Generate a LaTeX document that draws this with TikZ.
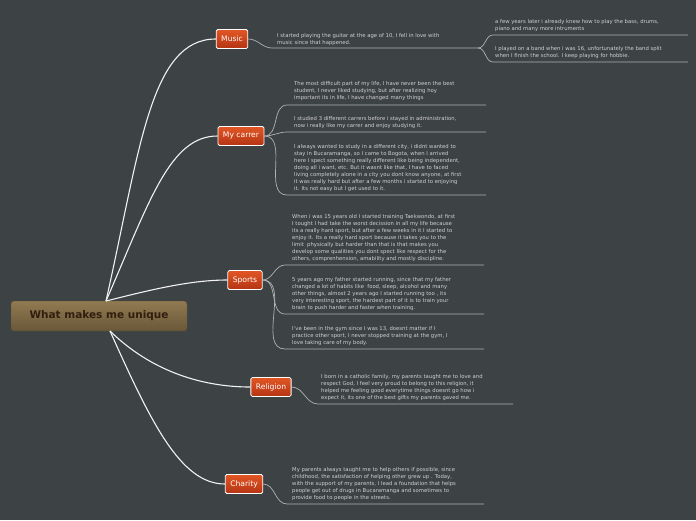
\documentclass[tikz,border=0pt]{standalone}
\usepackage{fontspec}
\setmainfont{DejaVu Sans}
\begin{document}
\begin{tikzpicture}[x=1pt,y=-1pt,
  branch/.style={draw=white,line width=0.8pt,rounded corners=1.5pt,top color={rgb,255:red,226;green,86;blue,36},bottom color={rgb,255:red,180;green,52;blue,20},text=white,font=\fontsize{7.6}{9}\selectfont,inner xsep=5pt,inner ysep=3pt,minimum height=19pt},
  sub/.style={anchor=south west,align=left,text=white!82!black,font=\fontsize{5.3}{7}\selectfont,inner sep=0pt},
  main/.style={line width=1.1pt,white!95!black},
  thin/.style={line width=0.7pt,white!70!black}]
\definecolor{bg}{HTML}{3D4244}
\fill[bg] (0,0) rectangle (696,520);
\useasboundingbox (0,0) rectangle (696,520);
\node[rounded corners=3pt,top color={rgb,255:red,145;green,122;blue,82},bottom color={rgb,255:red,105;green,87;blue,56},draw={rgb,255:red,95;green,80;blue,55},minimum width=176pt,minimum height=30pt,text={rgb,255:red,50;green,30;blue,15},font=\bfseries\fontsize{10.5}{12}\selectfont] (root) at (99,316) {What makes me unique};
\node[branch] (music) at (232,39) {Music};
\node[branch] (carrer) at (241,136) {My carrer};
\node[branch] (sports) at (245,280) {Sports};
\node[branch] (religion) at (271,387) {Religion};
\node[branch] (charity) at (244,484) {Charity};
\coordinate (rt) at (106,301);
\coordinate (rb) at (110,331);
\draw[main] (rt) .. controls (140,150) and (150,39) .. (music.west);
\draw[main] (rt) .. controls (150,200) and (170,136) .. (carrer.west);
\draw[main] (rt) .. controls (150,290) and (190,280) .. (sports.west);
\draw[main] (rb) .. controls (150,370) and (200,387) .. (religion.west);
\draw[main] (rb) .. controls (150,420) and (180,484) .. (charity.west);
% Music
\coordinate (m1) at (272,48); \coordinate (m1e) at (478,48);
\draw[thin] (music.east) to[out=0,in=180] (m1) -- (m1e);
\node[sub] (tm1) at (277,46) {I started playing the guitar at the age of 10, I fell in love with\\music since that happened.};
\coordinate (m2) at (493,35); \coordinate (m3) at (493,62);
\draw[thin] (m1e) to[out=0,in=180] (m2) -- (688,35);
\draw[thin] (m1e) to[out=0,in=180] (m3) -- (688,62);
\node[sub] at (495,32) {a few years later i already knew how to play the bass, drums,\\piano and many more intruments};
\node[sub] at (495,59) {I played on a band when i was 16, unfortunately the band split\\when I finish the school. I keep playing for hobbie.};
% Carrer
\foreach \y in {105,132,195}{\draw[thin] (carrer.east) to[out=0,in=180] (287,\y) -- (486,\y);}
\node[sub] at (294,101) {The most difficult part of my life, I have never been the best\\student, I never liked studying, but after realizing hoy\\important its in life, I have changed many things};
\node[sub] at (294,129) {I studied 3 different carrers before i stayed in administration,\\now i really like my carrer and enjoy studying it.};
\node[sub] at (294,192) {I always wanted to study in a different city, i didnt wanted to\\stay in Bucaramanga, so I came to Bogota, when I arrived\\here I spect something really different like being independent,\\doing all i want, etc. But it wasnt like that, I have to faced\\living completely alone in a city you dont know anyone, at first\\it was really hard but after a few months i started to enjoying\\it. Its not easy but I get used to it.};
% Sports
\foreach \y in {265,314,349}{\draw[thin] (sports.east) to[out=0,in=180] (285,\y) -- (484,\y);}
\node[sub] at (292,262) {When i was 15 years old I started training Taekwondo, at first\\I tought I had take the worst decission in all my life because\\its a really hard sport, but after a few weeks in it I started to\\enjoy it. Its a really hard sport because it takes you to the\\limit\ \ physically but harder than that is that makes you\\develop some qualities you dont spect like respect for the\\others, comprenhension, amability and mostly discipline.};
\node[sub] at (292,311) {5 years ago my father started running, since that my father\\changed a lot of habits like\ \ food, sleep, alcohol and many\\other things, almost 2 years ago I started running too , its\\very interesting sport, the hardest part of it is to train your\\brain to push harder and faster when training.};
\node[sub] at (292,346) {I've been in the gym since I was 13, doesnt matter if I\\practice other sport, I never stopped training at the gym, I\\love taking care of my body.};
% Religion
\draw[thin] (religion.east) to[out=0,in=180] (318,404) -- (513,404);
\node[sub] at (321,401) {I born in a catholic family, my parents taught me to love and\\respect God, I feel very proud to belong to this religion, it\\helped me feeling good everytime things doesnt go how i\\expect it, its one of the best gifts my parents gaved me.};
% Charity
\draw[thin] (charity.east) to[out=0,in=180] (287,504) -- (484,504);
\node[sub] at (292,501) {My parents always taught me to help others if possible, since\\childhood, the satisfaction of helping other grew up . Today,\\with the support of my parents, I lead a foundation that helps\\people get out of drugs in Bucaramanga and sometimes to\\provide food to people in the streets.};
\end{tikzpicture}
\end{document}
